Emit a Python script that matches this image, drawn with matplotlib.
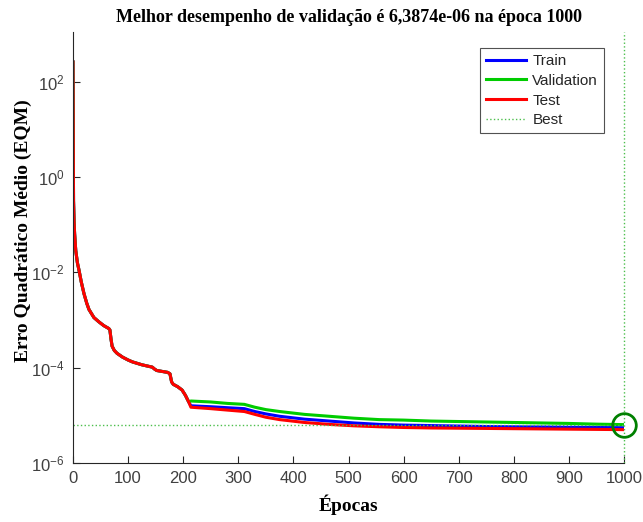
import numpy as np
import matplotlib
matplotlib.use('Agg')
import matplotlib.pyplot as plt

# %% Dados (log10 do EQM)

ep_early = [0, 1, 2, 3, 5, 8, 11, 15, 20, 25, 29, 38, 47, 56, 65, 67, 69, 71, 75, 80,
            90, 100, 108, 125, 144, 148, 152, 172, 176, 179, 182, 190, 198, 204, 210]
log_early = [2.41, -0.5, -0.95, -1.2, -1.54, -1.80, -1.96, -2.2, -2.45, -2.65, -2.78,
             -2.95, -3.04, -3.12, -3.18, -3.21, -3.40, -3.55, -3.64, -3.70, -3.78,
             -3.84, -3.88, -3.94, -3.99, -4.03, -4.06, -4.10, -4.13, -4.30, -4.35,
             -4.40, -4.47, -4.58, -4.72]

ep_late = [214, 250, 280, 311, 330, 350, 375, 420, 465, 510, 556, 600, 650, 700,
           750, 800, 850, 900, 950, 1000]
log_train_late = [-4.80, -4.82, -4.84, -4.86, -4.92, -4.97, -5.02, -5.08, -5.12, -5.16,
                  -5.19, -5.205, -5.215, -5.225, -5.235, -5.24, -5.245, -5.25, -5.255, -5.26]
log_valid_late = [-4.70, -4.72, -4.75, -4.77, -4.83, -4.88, -4.92, -4.98, -5.02, -5.06,
                  -5.09, -5.10, -5.12, -5.13, -5.14, -5.15, -5.16, -5.17, -5.185, -5.195]
log_test_late = [-4.83, -4.86, -4.89, -4.92, -4.98, -5.04, -5.09, -5.15, -5.19, -5.22,
                 -5.24, -5.255, -5.265, -5.27, -5.275, -5.28, -5.285, -5.29, -5.295, -5.30]

best_epoch = 1000
best_perf = 6.3874e-06

epochs = np.array(ep_early + ep_late)
train = 10.0**np.array(log_early + log_train_late)
valid = 10.0**np.array(log_early + log_valid_late)
test = 10.0**np.array(log_early + log_test_late)

# %% Figura

fig = plt.figure(figsize=(6.43, 5.22), dpi=100)
ax = fig.add_axes([0.1135, 0.113, 0.857, 0.826])

ax.semilogy(epochs, train, color=(0, 0, 1), lw=2.2, label='Train')
ax.semilogy(epochs, valid, color=(0, 0.8, 0), lw=2.2, label='Validation')
ax.semilogy(epochs, test, color=(1, 0, 0), lw=2.2, label='Test')
ax.axhline(best_perf, color=(0.3, 0.75, 0.3), ls=':', lw=1, label='Best')
ax.axvline(best_epoch, color=(0.3, 0.75, 0.3), ls=':', lw=1, clip_on=False)
ax.plot([best_epoch], [best_perf], 'o', mfc='none', mec=(0, 0.5, 0), ms=17, mew=2,
        clip_on=False, zorder=5)

ax.set_xlim(0, 1000)
ax.set_ylim(1e-6, 1.1e3)
ax.set_xticks(np.arange(0, 1001, 100))
ax.set_yticks([1e-6, 1e-4, 1e-2, 1e0, 1e2])
ax.set_yticklabels([r'$\mathregular{10^{-6}}$', r'$\mathregular{10^{-4}}$',
                    r'$\mathregular{10^{-2}}$', r'$\mathregular{10^{0}}$',
                    r'$\mathregular{10^{2}}$'])
ax.minorticks_off()

for s in ['top', 'right']:
    ax.spines[s].set_visible(False)
for s in ['left', 'bottom']:
    ax.spines[s].set_color('#262626')
ax.tick_params(direction='in', length=5, color='#262626', labelcolor='#404040',
               labelsize=12, pad=6)
for lbl in ax.get_xticklabels() + ax.get_yticklabels():
    lbl.set_family('Liberation Sans')

serif = {'family': 'Liberation Serif', 'weight': 'bold', 'size': 13}
ax.set_title('Melhor desempenho de validação é 6,3874e-06 na época 1000', fontdict=serif, pad=7)
ax.set_xlabel('Épocas', fontdict=dict(serif, size=14), labelpad=6)
ax.set_ylabel('Erro Quadrático Médio (EQM)', fontdict=dict(serif, size=14))
ax.yaxis.set_label_coords(-0.074, 0.54)

leg = ax.legend(loc='upper right', bbox_to_anchor=(0.964, 0.963), borderaxespad=0,
                fancybox=False, prop={'family': 'Liberation Sans', 'size': 11},
                handlelength=2.6, borderpad=0.4, labelspacing=0.38, handletextpad=0.4)
leg.get_frame().set_edgecolor('#262626')
leg.get_frame().set_linewidth(0.8)
for t in leg.get_texts():
    t.set_color('#262626')

fig.savefig('out.png', dpi=100)
